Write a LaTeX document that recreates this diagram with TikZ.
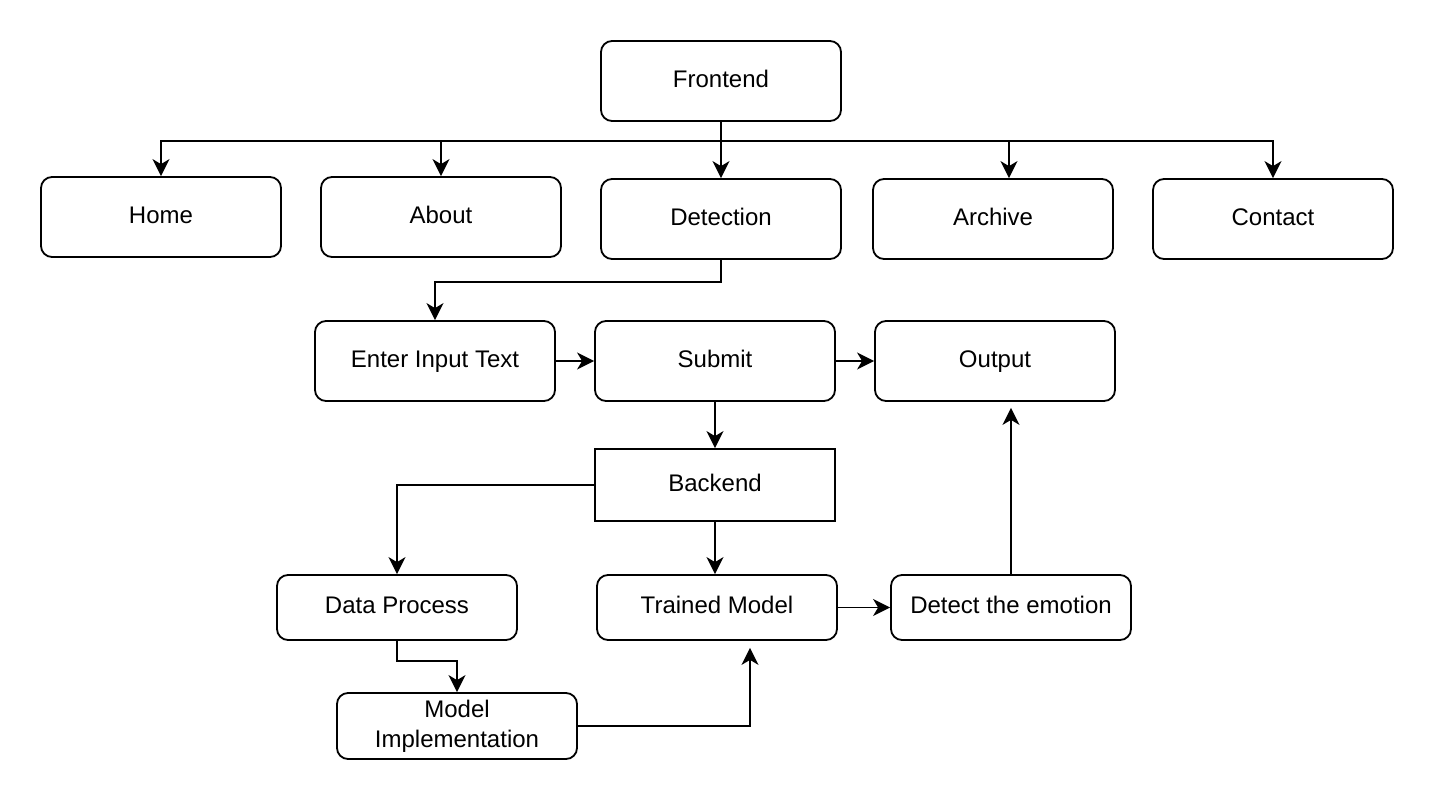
\documentclass[tikz,border=0pt]{standalone}
\usepackage{fontspec}
\setmainfont{Liberation Sans}
\usetikzlibrary{arrows.meta}
\begin{document}
\begin{tikzpicture}[x=1pt,y=-1pt,
  basebox/.style={draw,line width=1.8pt,rounded corners=11pt,minimum width=240pt,minimum height=80pt,
    inner sep=0pt,align=center,font=\fontsize{24}{30}\selectfont},
  box/.style={basebox,text height=17pt,text depth=5pt},
  sbox/.style={box,minimum height=65pt},
  arr/.style={line width=1.8pt,-{Stealth[length=17pt,width=17pt,inset=5pt]}}]
\useasboundingbox (0,0) rectangle (1434,800);
\node[box] (front) at (721,81) {Frontend};
\node[box] (home) at (161,217) {Home};
\node[box] (about) at (441,217) {About};
\node[box] (det) at (721,219) {Detection};
\node[box] (arch) at (993,219) {Archive};
\node[box] (cont) at (1273,219) {Contact};
\node[box] (enter) at (435,361) {Enter Input Text};
\node[box] (sub) at (715,361) {Submit};
\node[box] (out) at (995,361) {Output};
\node[box,rounded corners=0pt,minimum height=72pt] (back) at (715,485) {Backend};
\node[sbox] (dp) at (397,607.5) {Data Process};
\node[sbox] (tm) at (717,607.5) {Trained Model};
\node[sbox] (emo) at (1011,607.5) {Detect the emotion};
\node[basebox,minimum height=66pt] (mi) at (457,726) {Model\\Implementation};
\coordinate (bus) at (721,141);
\draw[arr] (front.south) -- (det.north);
\draw[arr] (bus) -| (home.north);
\draw[arr] (bus) -| (about.north);
\draw[arr] (bus) -| ([xshift=16pt]arch.north);
\draw[arr] (bus) -| (cont.north);
\draw[arr] (det.south) -- ++(0,22) -| (enter.north);
\draw[arr] (enter.east) -- (sub.west);
\draw[arr] (sub.east) -- (out.west);
\draw[arr] (sub.south) -- (back.north);
\draw[arr] (back.west) -| (dp.north);
\draw[arr] (back.south) -- (back.south |- tm.north);
\draw[arr] (dp.south) -- ++(0,20) -| (mi.north);
\draw[arr,shorten >=7pt] (mi.east) -| ([xshift=33pt]tm.south);
\draw[arr] (tm.east) -- (emo.west);
\draw[arr,shorten >=6pt] (emo.north) -- (emo.north |- out.south);
\end{tikzpicture}
\end{document}
